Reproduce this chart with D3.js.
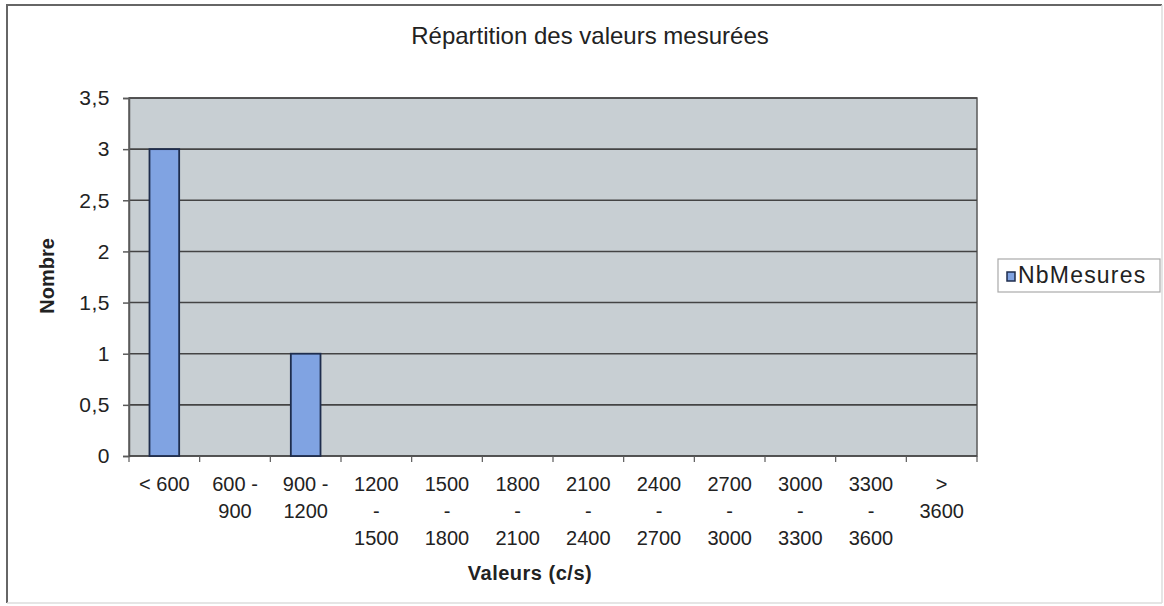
<!DOCTYPE html>
<html>
<head>
<meta charset="utf-8">
<script src="https://cdn.jsdelivr.net/npm/d3@7"></script>
<style>
body { margin: 0; background: #fff; }
text { font-family: "Liberation Sans", Arial, sans-serif; fill: #222; }
</style>
</head>
<body>
<div id="chart-area"></div>
<script>
// Répartition des valeurs mesurées
var categories = ["< 600", "600 - 900", "900 - 1200", "1200 - 1500", "1500 - 1800", "1800 - 2100",
    "2100 - 2400", "2400 - 2700", "2700 - 3000", "3000 - 3300", "3300 - 3600", "> 3600"];
var tickLines = [["< 600"], ["600 -", "900"], ["900 -", "1200"], ["1200", "-", "1500"], ["1500", "-", "1800"],
    ["1800", "-", "2100"], ["2100", "-", "2400"], ["2400", "-", "2700"], ["2700", "-", "3000"],
    ["3000", "-", "3300"], ["3300", "-", "3600"], [">", "3600"]];
var nbMesures = [3, 0, 1, 0, 0, 0, 0, 0, 0, 0, 0, 0];
var yTicks = [0, 0.5, 1, 1.5, 2, 2.5, 3, 3.5];

var margin = { left: 129, right: 187, top: 98, bottom: 150 };
var W = 1164, H = 606;
var width = W - margin.left - margin.right,
    height = H - margin.top - margin.bottom;

var svg = d3.select("#chart-area").append("svg")
    .attr("width", W)
    .attr("height", H);

// outer frame (scanned look: dark top/left, light bottom/right)
svg.append("line").attr("x1", 7).attr("x2", 7).attr("y1", 5).attr("y2", 603)
    .attr("stroke", "#666").attr("stroke-width", 2);
svg.append("line").attr("x1", 6).attr("x2", 1162).attr("y1", 5).attr("y2", 5)
    .attr("stroke", "#666").attr("stroke-width", 2);
svg.append("line").attr("x1", 1162).attr("x2", 1162).attr("y1", 5).attr("y2", 603)
    .attr("stroke", "#ddd").attr("stroke-width", 1.5);
svg.append("line").attr("x1", 7).attr("x2", 1162).attr("y1", 603).attr("y2", 603)
    .attr("stroke", "#ddd").attr("stroke-width", 1.5);

var g = svg.append("g").attr("transform", "translate(" + margin.left + ", " + margin.top + ")");

var x = d3.scaleBand().domain(categories).range([0, width]).paddingInner(0.58).paddingOuter(0.29);
var y = d3.scaleLinear().domain([0, 3.5]).range([height, 0]);

// plot background
g.append("rect")
    .attr("width", width)
    .attr("height", height)
    .attr("fill", "#c8cfd3")
    .attr("stroke", "#5a5a5a")
    .attr("stroke-width", 1.5);

// grid
g.selectAll(".grid").data(yTicks.slice(1)).enter().append("line")
    .attr("class", "grid")
    .attr("x1", 0).attr("x2", width)
    .attr("y1", function(d) { return y(d); })
    .attr("y2", function(d) { return y(d); })
    .attr("stroke", "#444")
    .attr("stroke-width", 1.6);

// Y axis
var leftAxis = d3.axisLeft(y).tickValues(yTicks).tickSize(6).tickPadding(13)
    .tickFormat(function(d) { return String(d).replace(".", ","); });
var yAxisGroup = g.append("g").attr("class", "y axis").call(leftAxis);
yAxisGroup.select(".domain").attr("stroke", "#5a5a5a").attr("stroke-width", 1.5);
yAxisGroup.selectAll(".tick line").attr("stroke", "#5a5a5a").attr("stroke-width", 1.5);
yAxisGroup.selectAll(".tick text").attr("font-size", "21px").attr("fill", "#222")
    .attr("letter-spacing", "0.5px")
    .attr("font-family", "Liberation Sans, Arial, sans-serif");

// X axis: ticks at band boundaries
var step = x.step();
var xAxisGroup = g.append("g").attr("class", "x axis").attr("transform", "translate(0, " + height + ")");
xAxisGroup.append("line").attr("x1", 0).attr("x2", width)
    .attr("stroke", "#444").attr("stroke-width", 1.6);
xAxisGroup.selectAll(".xtick").data(categories).enter().append("line")
    .attr("class", "xtick")
    .attr("x1", function(d) { return x(d) + x.bandwidth() / 2 - step / 2; })
    .attr("x2", function(d) { return x(d) + x.bandwidth() / 2 - step / 2; })
    .attr("y1", 0).attr("y2", 6)
    .attr("stroke", "#5a5a5a").attr("stroke-width", 1.2);
xAxisGroup.append("line").attr("x1", width).attr("x2", width).attr("y1", 0).attr("y2", 6)
    .attr("stroke", "#5a5a5a").attr("stroke-width", 1.2);

var labels = xAxisGroup.selectAll(".xlabel").data(categories).enter().append("text")
    .attr("class", "xlabel")
    .attr("text-anchor", "middle")
    .attr("font-size", "20px")
    .attr("transform", function(d) { return "translate(" + (x(d) + x.bandwidth() / 2) + ",0)"; });
labels.each(function(d, i) {
    var t = d3.select(this);
    tickLines[i].forEach(function(line, j) {
        t.append("tspan").attr("x", 0).attr("y", 35 + j * 27).text(line);
    });
});

// bars
g.selectAll(".bar").data(nbMesures).enter().append("rect")
    .attr("class", "bar")
    .attr("x", function(d, i) { return x(categories[i]); })
    .attr("width", x.bandwidth())
    .attr("y", function(d) { return y(d); })
    .attr("height", function(d) { return height - y(d); })
    .attr("fill", "#80a3e2")
    .attr("stroke", "#1e2d4d")
    .attr("stroke-width", 1.8)
    .style("display", function(d) { return d > 0 ? null : "none"; });

// Title
svg.append("text")
    .attr("x", 590)
    .attr("y", 44)
    .attr("font-size", "24px")
    .attr("text-anchor", "middle")
    .text("Répartition des valeurs mesurées");

// X Label
svg.append("text")
    .attr("x", 530)
    .attr("y", 580)
    .attr("font-size", "20px")
    .attr("font-weight", "bold")
    .attr("letter-spacing", "0.5px")
    .attr("text-anchor", "middle")
    .text("Valeurs (c/s)");

// Y Label
svg.append("text")
    .attr("transform", "translate(54, 276) rotate(-90)")
    .attr("font-size", "20px")
    .attr("font-weight", "bold")
    .attr("letter-spacing", "0px")
    .attr("text-anchor", "middle")
    .text("Nombre");

// Legend
var legend = svg.append("g").attr("transform", "translate(998, 259)");
legend.append("rect").attr("width", 162).attr("height", 33)
    .attr("fill", "#fff").attr("stroke", "#aaa").attr("stroke-width", 1.2);
legend.append("rect").attr("x", 9).attr("y", 13).attr("width", 8).attr("height", 9)
    .attr("fill", "#80a3e2").attr("stroke", "#1e2d4d").attr("stroke-width", 1.5);
legend.append("text").attr("x", 20).attr("y", 24).attr("font-size", "23px")
    .attr("letter-spacing", "1.2px")
    .text("NbMesures");
</script>
</body>
</html>
